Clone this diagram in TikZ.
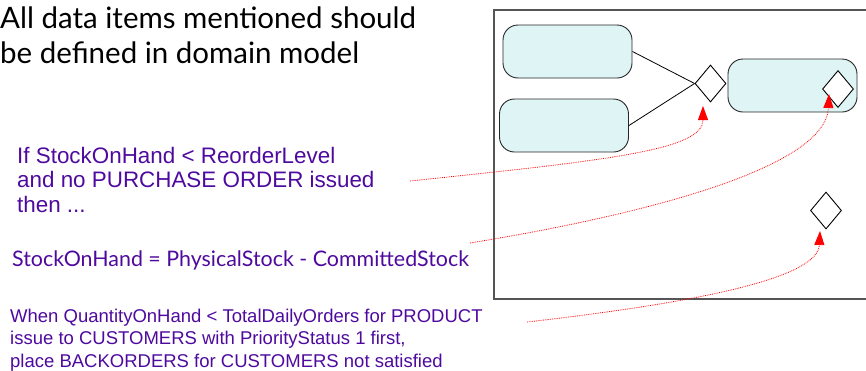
\documentclass[tikz,border=0pt]{standalone}
\usepackage{fontspec}
\setmainfont{Liberation Sans}
\newfontfamily\humanist{Lato}
\usetikzlibrary{shapes.geometric,arrows.meta}
\definecolor{notepurple}{RGB}{78,10,158}
\definecolor{statefill}{RGB}{222,244,245}
\definecolor{framegray}{RGB}{85,85,85}
\tikzset{
  state/.style={draw=black!85, line width=0.9pt, fill=statefill, rounded corners=15pt,
    minimum width=129pt, minimum height=53pt, inner sep=0pt},
  choice/.style={draw=black, line width=0.9pt, fill=white, shape=diamond, aspect=0.84,
    minimum width=31pt, minimum height=37pt, inner sep=0pt},
  link/.style={draw=black, line width=0.8pt},
  note/.style={text=notepurple, align=left, anchor=north west, inner sep=0pt},
  ref/.style={draw=red, line width=0.8pt, densely dotted,
    -{Triangle[width=10pt, length=14pt, fill=red]}},
}
\begin{document}
\begin{tikzpicture}[x=1pt,y=-1pt]
  \useasboundingbox (0,0) rectangle (866,370);
  % activity frame, open to the right
  \draw[framegray, line width=1.6pt] (870,10) -- (494,10) -- (494,299) -- (870,299);

  % states
  \node[state] (b1) at (567.5,51.5) {};
  \node[state] (b2) at (564,125.5) {};
  \node[state] (b3) at (792.5,85.5) {};

  % decision points
  \node[choice] (d1) at (710.5,83.5) {};
  \node[choice] (d2) at (838,89) {};
  \node[choice] (d3) at (826,210.5) {};

  \draw[link] (b1.east) -- (d1.west);
  \draw[link] (b2.east) -- (d1.west);

  % annotations
  \node[anchor=north west, inner sep=0pt, font=\humanist\fontsize{29.5}{35}\selectfont, align=left]
    (title) at (0,7) {All data items mentioned should\\be defined in domain model};
  \node[note, font=\fontsize{22.4}{24.5}\selectfont] (n1) at (17,147)
    {If StockOnHand < ReorderLevel\\and no PURCHASE ORDER issued\\then ...};
  \node[note, anchor=base west, font=\humanist\fontsize{21.4}{24}\selectfont] (n2) at (12,266)
    {StockOnHand = PhysicalStock - CommittedStock};
  \node[note, font=\fontsize{18.5}{22.5}\selectfont] (n3) at (10,308.5)
    {When QuantityOnHand < TotalDailyOrders for PRODUCT\\issue to CUSTOMERS with PriorityStatus 1 first,\\place BACKORDERS for CUSTOMERS not satisfied};

  % connector ends
  \coordinate (s1) at (410,181);
  \coordinate (t1) at (703,106);
  \coordinate (s2) at (470,243);
  \coordinate (t2) at (829,94);
  \coordinate (s3) at (527,322);
  \coordinate (t3) at (820,231);

  \draw[ref] (s1) .. controls (610,160) and (703,150) .. (t1);
  \draw[ref] (s2) .. controls (660,212) and (826,165) .. (t2);
  \draw[ref] (s3) .. controls (720,300) and (818,275) .. (t3);
\end{tikzpicture}
\end{document}
